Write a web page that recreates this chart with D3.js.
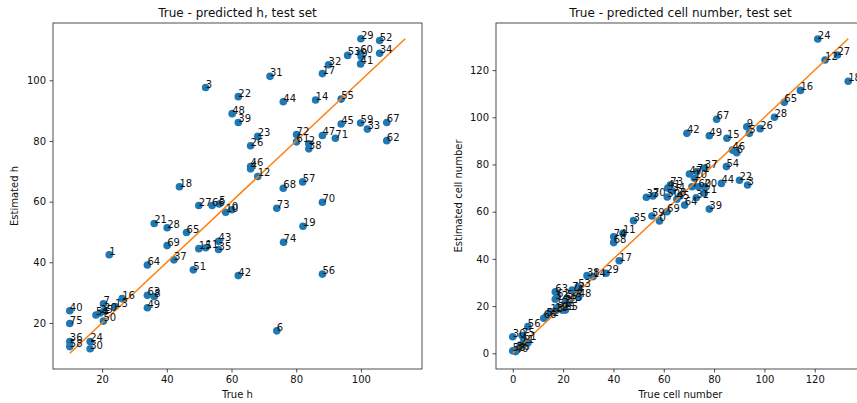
<!DOCTYPE html>
<html>
<head>
<meta charset="utf-8">
<script src="https://cdn.jsdelivr.net/npm/d3@7"></script>
<style>
  body { margin: 0; background: #fff; }
  svg { display: block; font-family: "DejaVu Sans", sans-serif; }
</style>
</head>
<body>
<svg id="chart" width="857" height="403"></svg>
<script>
// test set, h
const hLabels = [29,52,53,60,9,34,41,32,17,31,22,44,14,55,48,39,45,59,33,67,62,23,26,72,61,2,38,47,71,46,4,12,57,68,70,73,19,74,42,56,6,0,3,18,27,66,5,10,21,28,65,69,1,64,37,51,15,11,43,35,63,8,49,16,7,13,54,20,25,50,40,75,36,58,24,30];
const hTrue = [100,105.8,95.9,99.8,100.1,105.8,99.9,90.0,88.1,71.9,62.1,76.0,86.0,93.9,60.2,62.1,93.9,99.9,102.0,108.0,108.0,68.1,65.9,80.1,80.1,83.9,83.9,88.1,92.1,65.9,65.9,68.1,82.0,76.0,88.1,74.0,82.1,76.1,62.1,88.1,74.0,60.1,52.0,43.9,49.9,54.0,56.2,58.2,36.1,40.1,46.1,40.1,22.2,34.0,42.2,48.2,49.9,52.0,56.0,56.0,34.0,36.1,34.0,26.2,20.4,24.0,18.1,20.6,19.4,20.4,10,10,10,10,16.3,16.3];
const hPred = [113.7,113.1,108.2,108.9,107.8,108.9,105.4,105.1,102.2,101.3,94.6,92.9,93.5,93.8,89.0,86.1,85.6,85.9,83.9,86.1,80.1,81.5,78.4,82.1,79.7,79.1,77.4,81.8,80.9,71.6,70.8,68.3,66.5,64.4,59.8,57.8,51.9,46.6,35.6,36.1,17.4,57.3,97.6,64.9,58.7,58.7,59.2,56.5,52.8,51.4,49.8,45.5,42.5,39.1,40.8,37.5,44.5,44.8,46.9,44.2,29.1,28.7,25.0,28.0,26.3,25.4,22.6,23.9,23.3,20.6,24.0,19.8,13.9,12.2,13.9,11.5];
const hTicks = [20,40,60,80,100];

// test set, cell number
const cLabels = [24,12,27,18,16,65,28,67,42,49,15,9,5,26,46,6,37,54,47,71,10,44,22,3,73,7,60,20,33,70,21,31,64,39,41,34,50,45,8,35,59,0,69,74,11,68,17,29,38,14,53,63,72,4,48,62,32,57,23,25,55,19,13,52,66,56,30,75,1,61,58,36,40,2,43,51];
const cTrue = [121.2,124.1,129.0,133.3,114.3,107.9,104.0,81.0,69.2,78.1,85.1,93.0,94.0,98.3,87.3,89.0,76.3,84.9,70.2,73.2,72.2,82.9,90.1,93.3,62.6,71.2,73.8,76.1,53.1,55.7,76.1,72.9,68.3,78.1,61.6,63.4,61.4,65.2,66.5,48.0,55.3,58.3,61.3,40.1,43.8,40.1,42.3,37.1,29.5,31.9,26.0,16.9,23.6,25.6,26.2,17.6,16.9,21.6,20.8,19.6,20.9,16.9,15.0,13.4,12.3,6.0,0,3.7,6.0,4.4,0,1.7,1.1,3.0,22.5,18.0];
const cPred = [133.2,124.3,126.4,115.3,111.4,106.4,100.0,99.2,93.2,92.2,91.1,96.0,93.2,95.2,86.1,85.0,78.4,79.1,76.0,77.0,74.2,72.0,73.3,71.3,71.3,70.6,70.6,70.6,66.1,66.7,67.8,65.9,62.8,61.1,70.0,68.8,66.2,65.3,66.7,56.2,58.2,56.1,60.0,49.4,50.8,46.9,39.2,33.9,32.9,32.5,28.2,26.1,26.8,25.4,24.0,24.0,22.9,23.3,21.4,18.3,18.3,17.9,17.6,15.8,14.8,11.3,7.0,7.5,4.5,5.6,1.1,1.4,0.7,3.5,22.0,19.5];
const cTicks = [0,20,40,60,80,100,120];

const svg = d3.select("#chart");

function panel(opts) {
  const x0 = opts.left, x1 = opts.left + 369, y0 = 23, y1 = 369;
  const all = opts.xs.concat(opts.ys);
  const lo = d3.min(all), hi = d3.max(all);
  const pad = (hi - lo) * 0.05;

  const x = d3.scaleLinear().domain([lo - pad, hi + pad]).range([x0, x1]);
  const y = d3.scaleLinear().domain([lo - pad, hi + pad]).range([y1, y0]);

  const g = svg.append("g");

  // axes
  g.append("g")
      .attr("transform", "translate(0," + y1 + ")")
      .call(d3.axisBottom(x).tickValues(opts.ticks).tickSize(3.5).tickPadding(3.5).tickFormat(d3.format("d")));
  g.append("g")
      .attr("transform", "translate(" + x0 + ",0)")
      .call(d3.axisLeft(y).tickValues(opts.ticks).tickSize(3.5).tickPadding(3.5).tickFormat(d3.format("d")));
  g.selectAll(".domain").remove();
  g.selectAll(".tick text").attr("font-size", 10).attr("font-family", "DejaVu Sans").attr("fill", "#111");
  g.selectAll(".tick line").attr("stroke", "#222").attr("stroke-width", 0.8);

  // points
  g.append("g").selectAll("circle")
    .data(opts.xs)
    .join("circle")
      .attr("cx", d => x(d))
      .attr("cy", (d, i) => y(opts.ys[i]))
      .attr("r", 3.8)
      .attr("fill", "#1f77b4");

  // y = x reference
  g.append("line")
      .attr("x1", x(lo)).attr("y1", y(lo))
      .attr("x2", x(hi)).attr("y2", y(hi))
      .attr("stroke", "#ff7f0e")
      .attr("stroke-width", 1.5);

  g.append("g").selectAll("text")
    .data(opts.labels)
    .join("text")
      .attr("x", (d, i) => x(opts.xs[i]))
      .attr("y", (d, i) => y(opts.ys[i]))
      .attr("font-size", 10)
      .attr("fill", "#111")
      .text(d => d);

  // frame
  g.append("rect")
      .attr("x", x0).attr("y", y0)
      .attr("width", x1 - x0).attr("height", y1 - y0)
      .attr("fill", "none").attr("stroke", "#222").attr("stroke-width", 0.8);

  g.append("text")
      .attr("x", (x0 + x1) / 2).attr("y", 17)
      .attr("text-anchor", "middle").attr("font-size", 12).attr("fill", "#111")
      .text(opts.title);
  g.append("text")
      .attr("x", (x0 + x1) / 2).attr("y", 398)
      .attr("text-anchor", "middle").attr("font-size", 10).attr("fill", "#111")
      .text(opts.xLabel);
  g.append("text")
      .attr("transform", "translate(" + (x0 - opts.yLabelGap) + "," + ((y0 + y1) / 2) + ") rotate(-90)")
      .attr("text-anchor", "middle").attr("font-size", 10).attr("fill", "#111")
      .text(opts.yLabel);
}

panel({left: 53, xs: hTrue, ys: hPred, labels: hLabels, ticks: hTicks,
  title: "True - predicted h, test set", xLabel: "True h", yLabel: "Estimated h", yLabelGap: 35});
panel({left: 496, xs: cTrue, ys: cPred, labels: cLabels, ticks: cTicks,
  title: "True - predicted cell number, test set", xLabel: "True cell number", yLabel: "Estimated cell number", yLabelGap: 34});
</script>
</body>
</html>
